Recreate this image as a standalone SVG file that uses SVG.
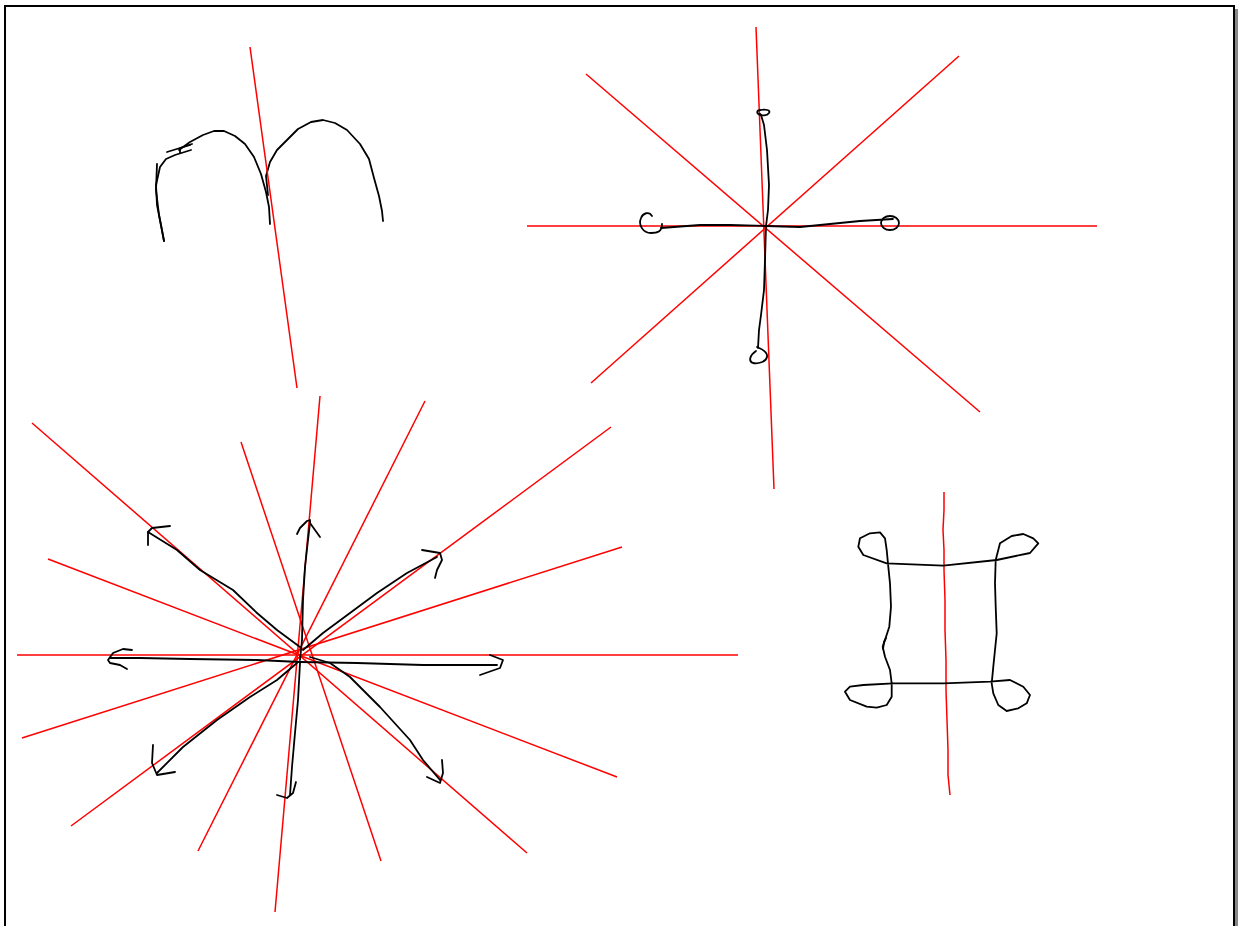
<svg xmlns="http://www.w3.org/2000/svg" width="1238" height="926" viewBox="0 0 1238 926">
<style>
.ink{fill:none;stroke:#000;stroke-width:1.8;stroke-linecap:round;stroke-linejoin:round}
.red{fill:none;stroke:#f00;stroke-width:1.5;stroke-linecap:butt}
</style>
<rect x="0" y="0" width="1238" height="926" fill="#fff"/>
<rect x="1235" y="9" width="3" height="930" fill="#888"/>
<rect x="5" y="6" width="1229" height="940" fill="none" stroke="#000" stroke-width="2"/>

<g id="m-figure">
<polyline class="ink" points="157,164 156,190 159,215 164,241"/>
<polyline class="ink" points="164,241 161,225 157,205 156,185 160,167 166,159 175,155 191,150"/>
<polyline class="ink" points="179,150 190,142 203,135 214,131 224,131 235,136 245,144 254,157 261,174 266,192 269,207 270,224"/>
<polyline class="ink" points="167,152 180,148 192,144"/>
<polyline class="ink" points="180,153 180,148 190,145"/>
<polyline class="ink" points="268,195 266,176 270,162 277,150 287,140 298,129 311,122 323,120 335,123 347,130 360,144 369,159 374,178 379,196 382,211 383,221"/>
<line class="red" x1="250" y1="47" x2="297" y2="388"/>
</g>

<g id="cross-figure">
<line class="red" x1="756" y1="27" x2="774" y2="489"/>
<line class="red" x1="527" y1="226" x2="1097" y2="226"/>
<line class="red" x1="586" y1="74" x2="980" y2="412"/>
<line class="red" x1="959" y1="56" x2="591" y2="383"/>
<path class="ink" d="M761,115 C756,114 756,110 761,110 C765,109 771,110 769,113 C767,116 761,116 760,114"/>
<polyline class="ink" points="761,115 764,125 767,150 769,185 768,210 766,226 765,260 764,290 761,315 759,330 758,348"/>
<path class="ink" d="M757,347 C762,349 768,352 767,357 C766,362 758,364 753,363 C748,361 750,355 756,351"/>
<path class="ink" d="M652,216 C649,211 643,213 641,218 C638,225 643,233 651,233 C657,233 662,232 662,224"/>
<polyline class="ink" points="661,228 700,225 730,225 766,226 800,227 830,224 860,221 893,219"/>
<ellipse class="ink" cx="890" cy="223" rx="9" ry="7"/>
</g>

<g id="star-figure">
<line class="red" x1="32" y1="423" x2="527" y2="853"/>
<line class="red" x1="320" y1="396" x2="275" y2="912"/>
<line class="red" x1="425" y1="401" x2="198" y2="851"/>
<line class="red" x1="611" y1="427" x2="71" y2="826"/>
<line class="red" x1="241" y1="442" x2="381" y2="861"/>
<line class="red" x1="48" y1="559" x2="617" y2="777"/>
<line class="red" x1="622" y1="547" x2="22" y2="738"/>
<line class="red" x1="17" y1="655" x2="738" y2="655"/>
<polyline class="ink" points="300,660 302,640 303,600 305,567 308,540 310,523"/>
<polyline class="ink" points="297,534 300,528 307,521 310,520 310,523 320,537"/>
<polyline class="ink" points="300,647 277,630 257,613 233,590 200,570 177,550 148,532"/>
<polyline class="ink" points="148,545 148,532 152,528 170,526"/>
<polyline class="ink" points="303,650 323,633 350,613 377,593 407,573 437,557"/>
<polyline class="ink" points="422,550 440,553 442,560 437,570 435,578"/>
<polyline class="ink" points="300,662 257,660 190,659 140,658 110,658"/>
<polyline class="ink" points="132,650 123,649 113,653 108,660 110,663 120,665 127,669"/>
<polyline class="ink" points="300,662 357,663 423,665 497,665"/>
<polyline class="ink" points="490,655 503,660 500,668 480,675"/>
<polyline class="ink" points="297,663 277,680 250,697 217,720 183,747 157,773"/>
<polyline class="ink" points="153,745 152,763 157,775 175,772"/>
<polyline class="ink" points="300,663 298,700 295,733 292,767 290,795"/>
<polyline class="ink" points="277,795 287,798 293,793 296,782"/>
<polyline class="ink" points="310,657 330,663 350,677 380,707 410,740 423,760 440,780"/>
<polyline class="ink" points="442,760 443,773 440,783 427,777"/>
</g>

<g id="square-figure">
<polyline class="red" points="944,492 944,510 943,530 944,550 944,570 945,600 945,630 946,660 946,690 947,720 948,750 948,775 950,795"/>
<polyline class="ink" points="886.7,563.3 863.3,555 858.3,546.7 860,538.3 870,533.3 880,532.3 885,538.3 886.7,550 888.3,566.7 890,583.3 891,606.7 889.3,626.7 885,640 882.7,646.7 885,656.7 890,670 891.7,683.3 891.7,696.7 886.7,705 876.7,707.7 866.7,706.7 850,700 845,691.7 850,686.7 863.3,685 893.3,683.3 943.3,683.3 990,681.7 1010,680 1023.3,686.7 1030,695 1026.7,703.3 1018.3,708.3 1006.7,711 998.3,705 993.3,693.3 991.7,683.3 993.3,666.7 995,650 996.7,633.3 995.7,606.7 995,583.3 995.7,560 1000,543.3 1011.7,536 1023.3,534 1033.3,538.3 1038.3,543.3 1030,553 996.7,560 943.3,565.7 886.7,563.3"/>
<polyline class="ink" points="883,649 884,642 886,638"/>
</g>
</svg>
